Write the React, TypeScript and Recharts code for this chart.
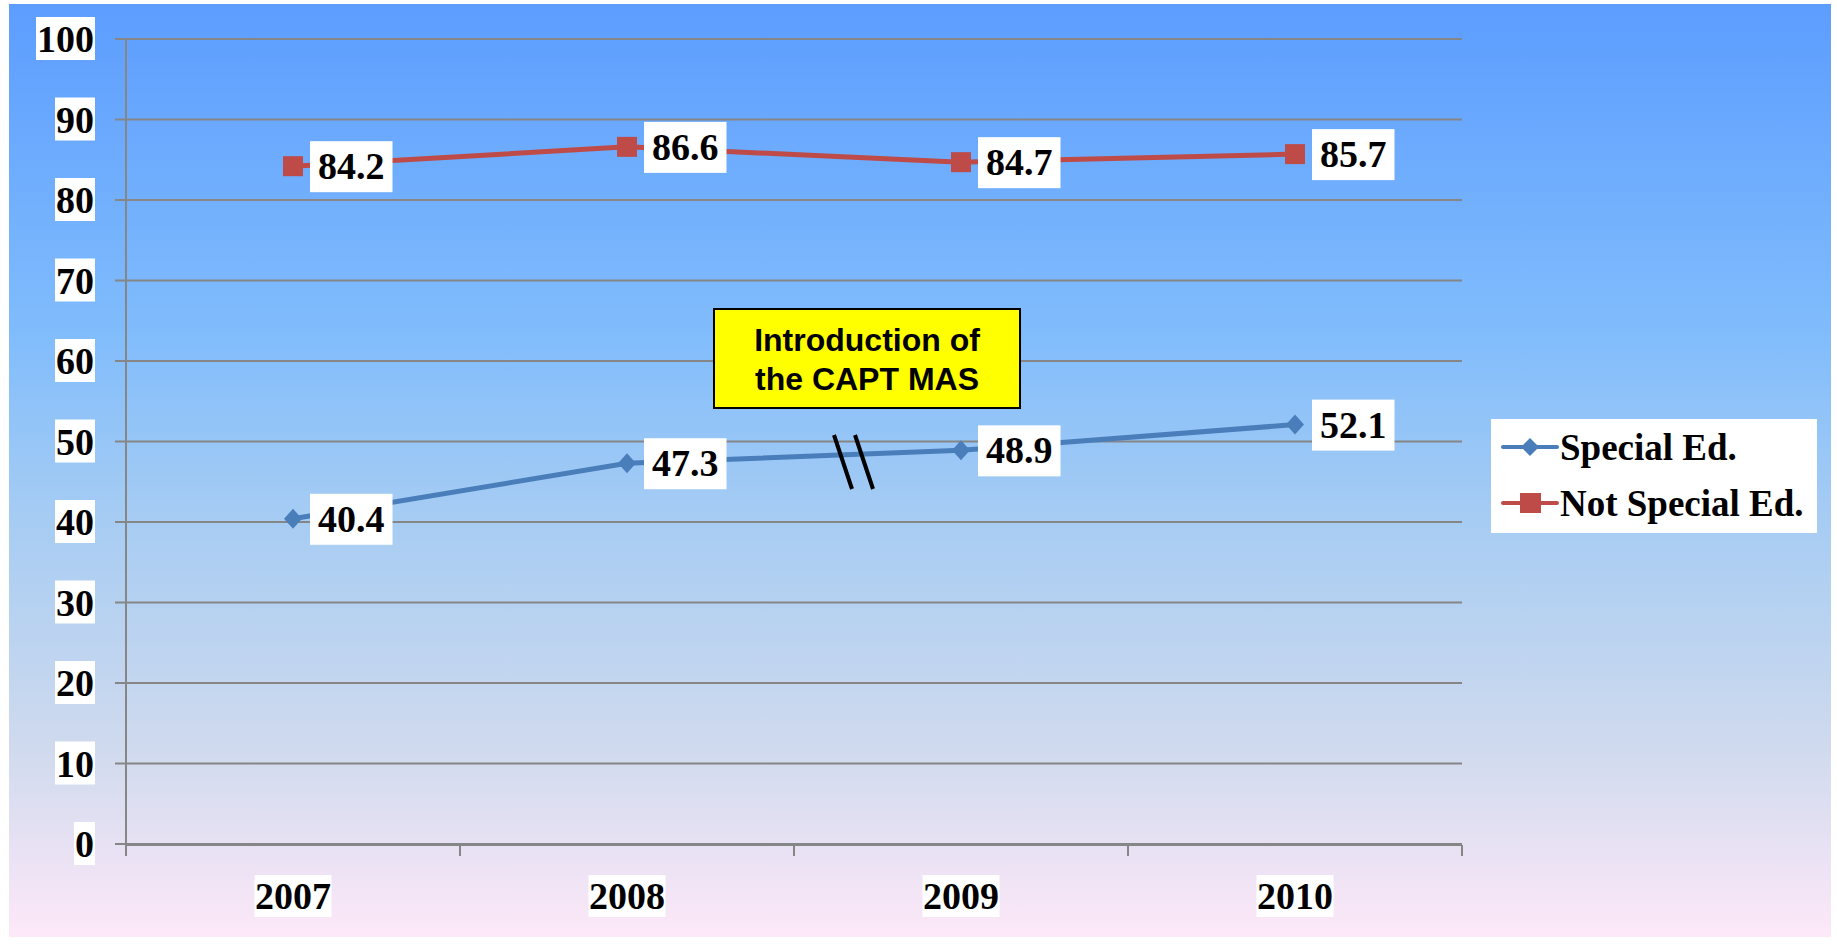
import React from 'react'
import { CartesianGrid, LabelList, Legend, Line, LineChart, XAxis, YAxis } from 'recharts'

const years = ['2007', '2008', '2009', '2010']
const specialEd = [40.4, 47.3, 48.9, 52.1]
const notSpecialEd = [84.2, 86.6, 84.7, 85.7]
const yTicks = [0, 10, 20, 30, 40, 50, 60, 70, 80, 90, 100]
const edgeTicks = [0, 1, 2, 3, 4]

const data = years.map((year, i) => ({
  year,
  special: specialEd[i],
  notSpecial: notSpecialEd[i],
}))

const BLUE = '#4A7EBB'
const RED = '#BE4B48'
const GRID = '#868686'
const SERIF = '"Liberation Serif", "Times New Roman", serif'
const SANS = '"Liberation Sans", Arial, sans-serif'

// rough width of bold serif numerals
const textWidth = (s: string, size: number) =>
  s.split('').reduce((w, c) => w + (c === '.' ? 0.25 : 0.5), 0) * size

function YTick(props: any) {
  const { x, y, payload } = props
  const label = String(payload.value)
  const w = textWidth(label, 38) + 2
  return (
    <g>
      <rect x={x - w} y={y - 22} width={w} height={43} fill="#fff" />
      <text x={x - 1} y={y + 13} textAnchor="end" fontFamily={SERIF} fontWeight="bold" fontSize={38} fill="#000">
        {label}
      </text>
    </g>
  )
}

function XTick(props: any) {
  const { x, y, payload } = props
  const label = String(payload.value)
  const w = textWidth(label, 38) + 1
  return (
    <g>
      <rect x={x - w / 2} y={y + 31} width={w} height={42} fill="#fff" />
      <text x={x} y={y + 65} textAnchor="middle" fontFamily={SERIF} fontWeight="bold" fontSize={38} fill="#000">
        {label}
      </text>
    </g>
  )
}

const NoTick = () => <g />

function ValueLabel(props: any) {
  const { x, y, value } = props
  const label = Number(value).toFixed(1)
  const w = textWidth(label, 38) + 16
  return (
    <g>
      <rect x={x + 17} y={y - 25} width={w} height={51} fill="#fff" />
      <text x={x + 25} y={y + 13} fontFamily={SERIF} fontWeight="bold" fontSize={38} fill="#000">
        {label}
      </text>
    </g>
  )
}

const diamond = (props: any) => {
  const { cx, cy, index } = props
  return (
    <path
      key={`d-${index}`}
      d={`M${cx},${cy - 10} L${cx + 9},${cy} L${cx},${cy + 10} L${cx - 9},${cy} Z`}
      fill={BLUE}
    />
  )
}

const square = (props: any) => {
  const { cx, cy, index } = props
  return <rect key={`s-${index}`} x={cx - 10} y={cy - 10} width={20} height={20} fill={RED} />
}

function LegendBox() {
  const rows = [
    { name: 'Special Ed.', color: BLUE, shape: 'diamond' },
    { name: 'Not Special Ed.', color: RED, shape: 'square' },
  ]
  return (
    <div style={{ background: '#fff', width: 326, height: 114, position: 'relative' }}>
      {rows.map((r, i) => (
        <div key={r.name} style={{ position: 'absolute', left: 10, top: 6 + i * 56, height: 44, display: 'flex', alignItems: 'center' }}>
          <svg width={58} height={24}>
            <line x1={2} y1={12} x2={56} y2={12} stroke={r.color} strokeWidth={4} strokeLinecap="round" />
            {r.shape === 'diamond' ? (
              <path d="M29,3 L38,12 L29,21 L20,12 Z" fill={r.color} />
            ) : (
              <rect x={19} y={2} width={21} height={20} fill={r.color} />
            )}
          </svg>
          <span style={{ fontFamily: SERIF, fontWeight: 'bold', fontSize: 37, color: '#000', marginLeft: 1, whiteSpace: 'nowrap' }}>
            {r.name}
          </span>
        </div>
      ))}
    </div>
  )
}

export default function App() {
  return (
    <div style={{ position: 'absolute', left: 0, top: 0, width: 1837, height: 948, background: '#fff' }}>
      <div
        style={{
          position: 'absolute',
          left: 9,
          top: 4,
          width: 1822,
          height: 933,
          background: 'linear-gradient(to bottom, #5C9DFF 0%, #80BCFC 35%, #A6CCF3 55%, #D0DAEE 80%, #FDE8F8 100%)',
        }}
      />
      <div style={{ position: 'absolute', left: 0, top: 0 }}>
        <LineChart width={1837} height={948} data={data} margin={{ top: 39, right: 375, bottom: 102, left: 26 }}>
          <CartesianGrid vertical={false} stroke={GRID} strokeWidth={2} />
          {/* category boundary ticks, as in the original */}
          <XAxis
            xAxisId="edge"
            dataKey="edge"
            type="number"
            scale="linear"
            domain={[0, 4]}
            ticks={edgeTicks}
            interval={0}
            allowDataOverflow
            height={1}
            tick={<NoTick />}
            tickSize={11}
            tickLine={{ stroke: GRID, strokeWidth: 2 }}
            axisLine={{ stroke: GRID, strokeWidth: 2 }}
          />
          <XAxis
            xAxisId="cat"
            dataKey="year"
            height={1}
            padding={{ left: 167, right: 167 }}
            tickSize={0}
            tickMargin={0}
            tickLine={false}
            axisLine={false}
            tick={<XTick />}
            interval={0}
          />
          <YAxis
            width={100}
            domain={[0, 100]}
            ticks={yTicks}
            interval={0}
            tickSize={11}
            tickMargin={20}
            tickLine={{ stroke: GRID, strokeWidth: 2 }}
            axisLine={{ stroke: GRID, strokeWidth: 2 }}
            tick={<YTick />}
          />
          <Legend
            layout="horizontal"
            verticalAlign="middle"
            content={() => <LegendBox />}
            wrapperStyle={{ left: 1491, top: 419, width: 326, height: 114 }}
          />
          <Line
            xAxisId="cat"
            type="linear"
            dataKey="special"
            name="Special Ed."
            stroke={BLUE}
            strokeWidth={5}
            dot={diamond}
            activeDot={false}
            isAnimationActive={false}
          >
            <LabelList dataKey="special" content={<ValueLabel />} />
          </Line>
          <Line
            xAxisId="cat"
            type="linear"
            dataKey="notSpecial"
            name="Not Special Ed."
            stroke={RED}
            strokeWidth={5}
            dot={square}
            activeDot={false}
            isAnimationActive={false}
          >
            <LabelList dataKey="notSpecial" content={<ValueLabel />} />
          </Line>
        </LineChart>
      </div>
      {/* annotation + break marks */}
      <svg width={1837} height={948} style={{ position: 'absolute', left: 0, top: 0, pointerEvents: 'none' }}>
        <rect x={714} y={309} width={306} height={99} fill="#FFFF00" stroke="#000" strokeWidth={2} />
        <text x={867} y={351} textAnchor="middle" fontFamily={SANS} fontWeight="bold" fontSize={32} fill="#000">
          Introduction of
        </text>
        <text x={867} y={390} textAnchor="middle" fontFamily={SANS} fontWeight="bold" fontSize={32} fill="#000">
          the CAPT MAS
        </text>
        <line x1={834} y1={435} x2={852} y2={489} stroke="#000" strokeWidth={4} />
        <line x1={855} y1={435} x2={873} y2={489} stroke="#000" strokeWidth={4} />
      </svg>
    </div>
  )
}
